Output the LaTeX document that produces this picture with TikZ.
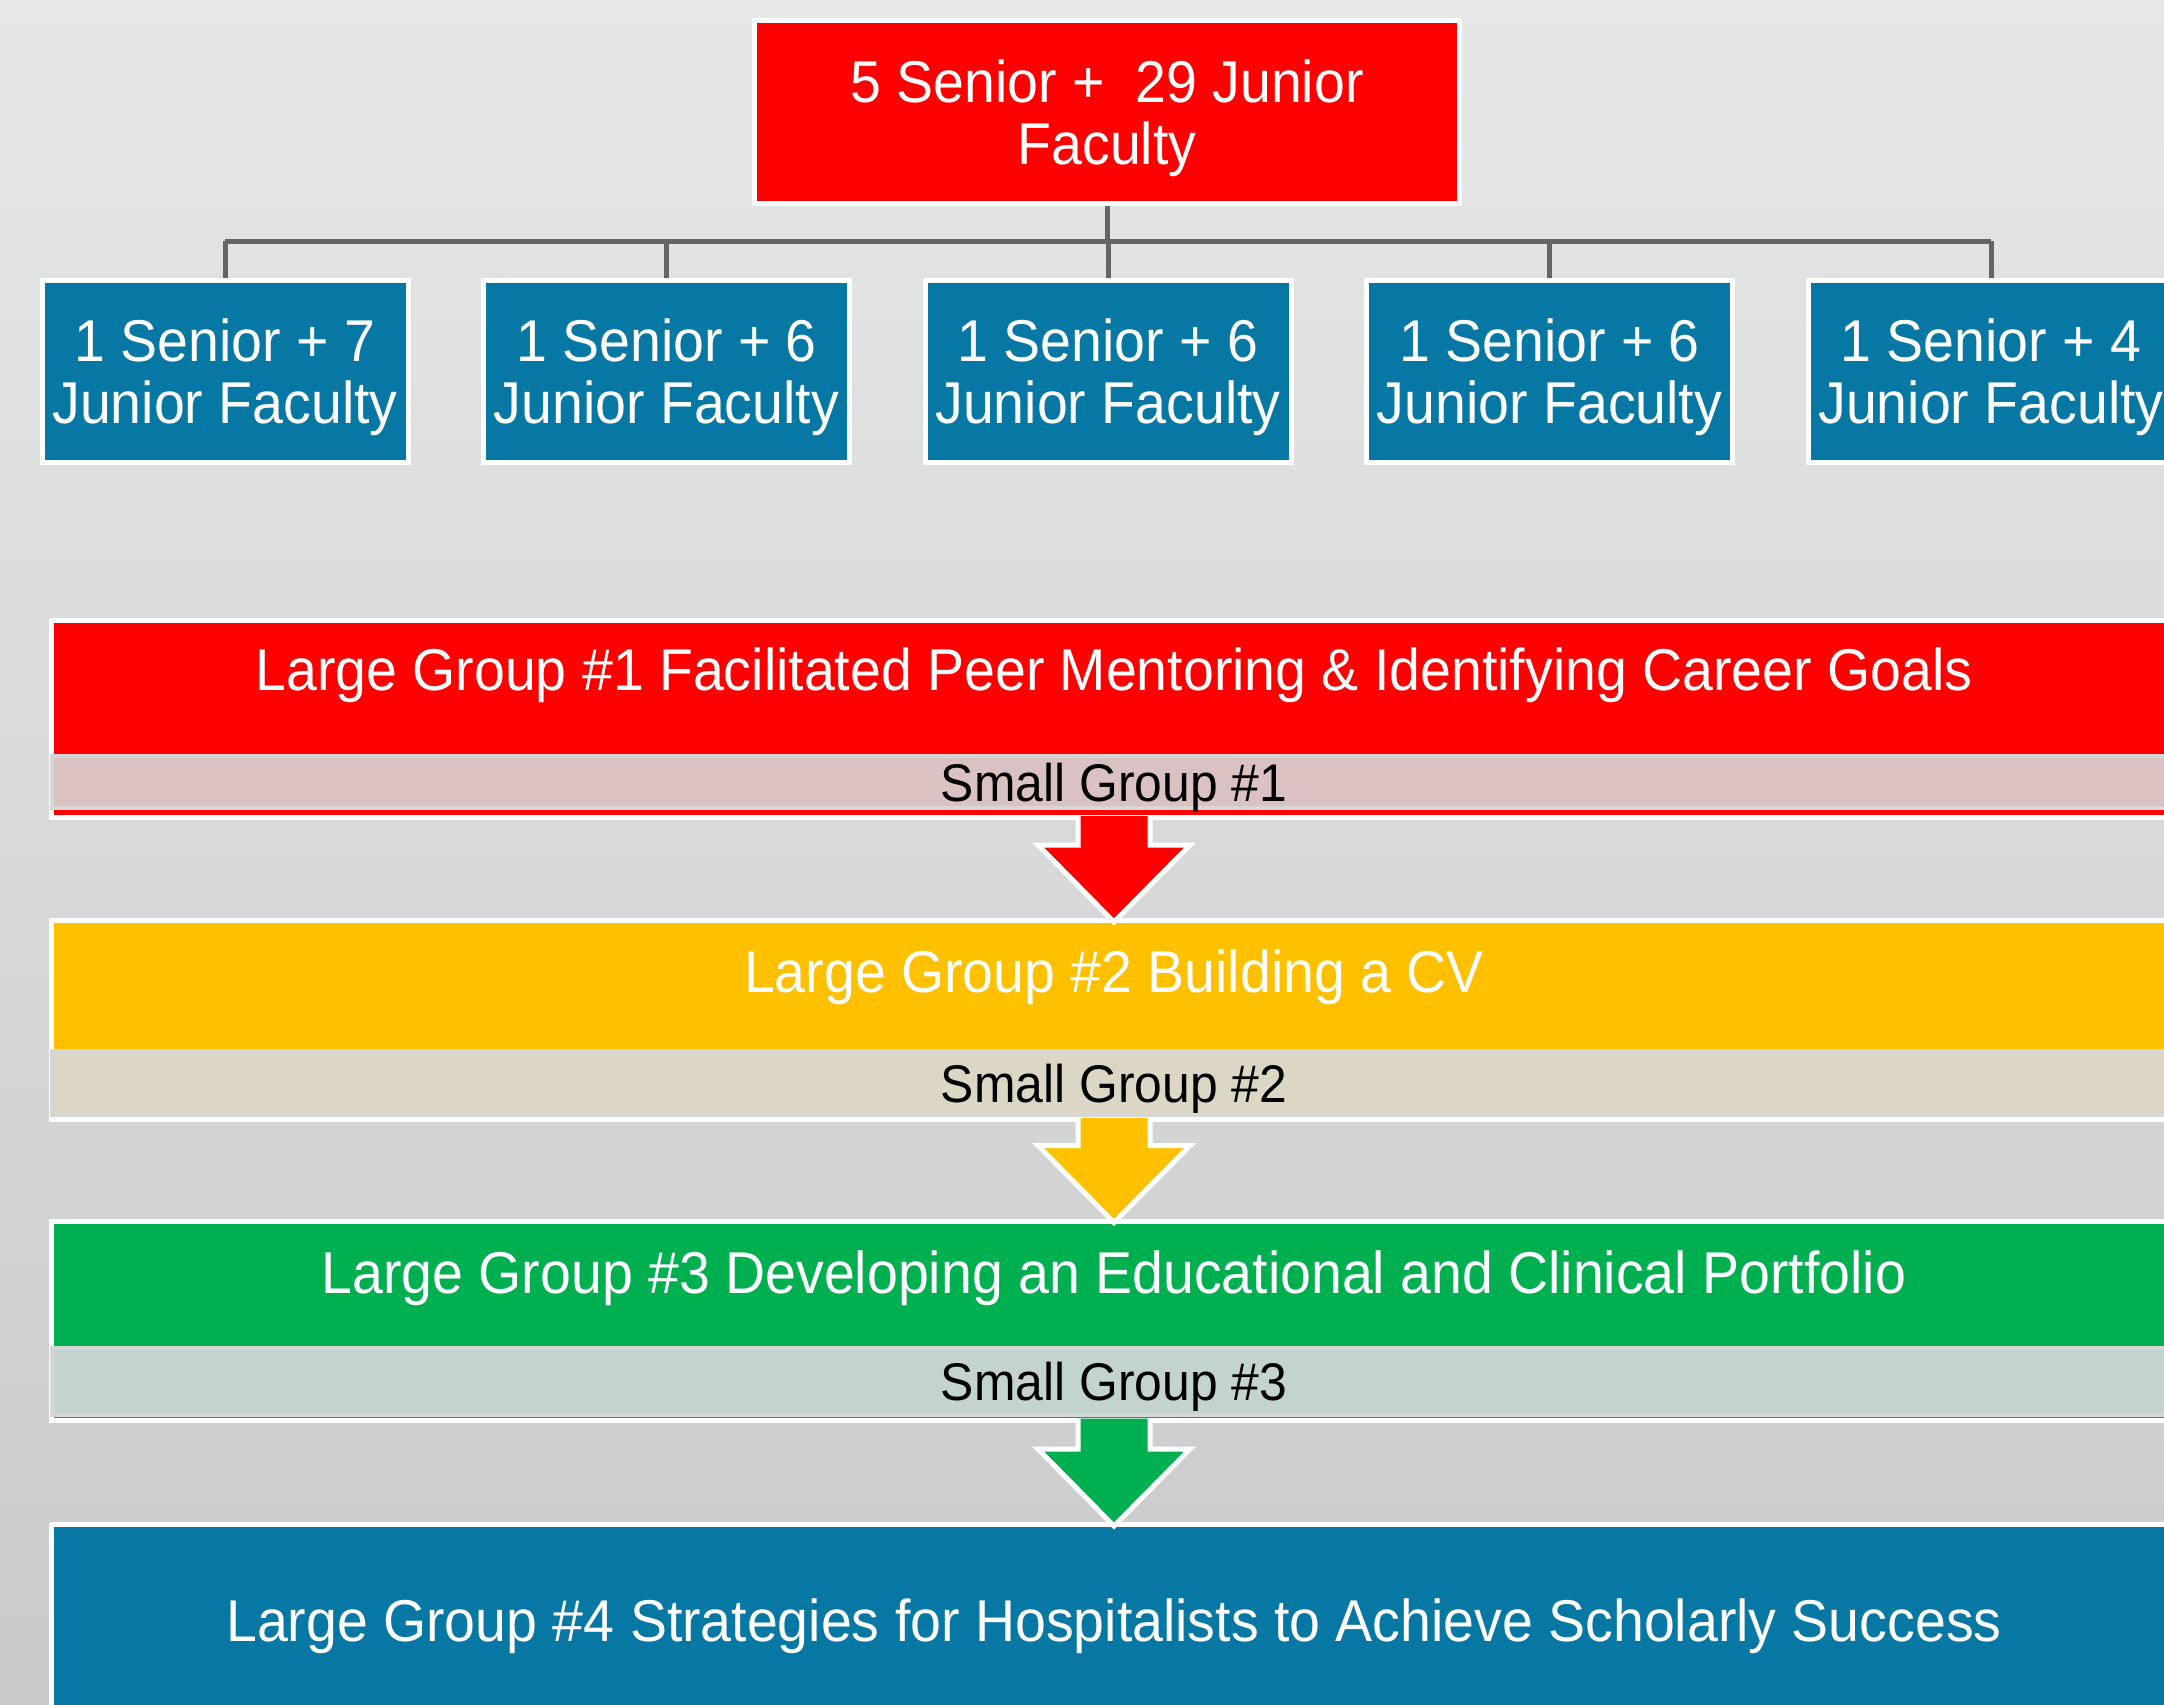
\documentclass[tikz,border=0pt]{standalone}
\usepackage{fontspec}
\setmainfont{Liberation Sans}[FakeStretch=0.94]
\usetikzlibrary{calc}
\definecolor{bgtop}{HTML}{E6E7E7}
\definecolor{bgbot}{HTML}{C9CACC}
\definecolor{deepblue}{HTML}{0777A3}
\definecolor{amber}{HTML}{FFC000}
\definecolor{leaf}{HTML}{00B050}
\definecolor{linegray}{HTML}{646567}
\definecolor{pinkband}{HTML}{DBC2C2}
\definecolor{sandband}{HTML}{DCD6C4}
\definecolor{mintband}{HTML}{C3D4CC}
\definecolor{bandedge}{HTML}{D6D6D6}
\newcommand{\facfont}{\fontsize{59}{62}\selectfont}
\newcommand{\bandfont}{\fontsize{53}{58}\selectfont}

\begin{document}
\begin{tikzpicture}[x=1pt,y=-1pt,
  box/.style={rectangle,draw=white,line width=5pt,inner sep=0pt,
    text=white,align=center,font=\facfont,text depth=0pt},
  team/.style={box,fill=deepblue,minimum width=366pt,minimum height=182pt},
  stage/.style={box,minimum width=2125pt},
  stagetext/.style={text=white,font=\facfont,inner sep=0pt},
  band/.style={rectangle,draw=bandedge,line width=4pt,inner sep=0pt,
    minimum width=2125pt,text=black,font=\bandfont,text depth=0pt},
  tree/.style={draw=linegray,line width=5pt},
  flow/.style={draw=white,line width=5pt,line join=miter}]
\useasboundingbox (0,0) rectangle (2164,1705);
\shade[top color=bgtop,bottom color=bgbot] (0,0) rectangle (2164,1705);
\clip (0,0) rectangle (2164,1705);

% faculty tree
\node[box,fill=red,minimum width=705pt,minimum height=183pt] (all) at (1107,112)
  {5 Senior + \ 29 Junior\\Faculty};
\foreach \i/\n in {1/7,2/6,3/6,4/6,5/4}{
  \node[team] (t\i) at ({225+441.5*(\i-1)},371) {1 Senior + \n\\Junior Faculty};}
\coordinate (bus) at (1107,241);
\draw[tree] (all.south) -- (all.south |- bus);
\draw[tree] (t1.north |- bus) -- (t5.north |- bus);
\foreach \i in {1,...,5}{\draw[tree] (t\i.north |- bus) -- (t\i.north);}

% sessions
\node[stage,fill=red,minimum height=197.5pt] (lg1) at (1114,718.75) {};
\node[band,fill=pinkband,minimum height=52pt] (sg1) at (1114,782) {Small Group \#1};
\node[stagetext] (lg1t) at (1114,675)
  {Large Group \#1 Facilitated Peer Mentoring \& Identifying Career Goals};

\node[stage,fill=amber,minimum height=199pt] (lg2) at (1114,1020) {};
\node[band,fill=sandband,minimum height=64pt] (sg2) at (1114,1083) {Small Group \#2};
\node[stagetext] (lg2t) at (1114,977) {Large Group \#2 Building a CV};

\node[stage,fill=leaf,minimum height=199pt] (lg3) at (1114,1320.5) {};
\node[band,fill=mintband,minimum height=67pt] (sg3) at (1114,1381.5) {Small Group \#3};
\node[stagetext] (lg3t) at (1114,1278)
  {Large Group \#3 Developing an Educational and Clinical Portfolio};

\node[stage,fill=deepblue,minimum height=191pt] (lg4) at (1114,1620)
  {Large Group \#4 Strategies for Hospitalists to Achieve Scholarly Success};

% block arrows between sessions
\foreach \a/\b/\c in {1/2/red,2/3/amber,3/4/leaf}{
  \filldraw[flow,fill=\c] ($(lg\a.south)+(-36,-4)$) -- ($(lg\b.north)+(-36,-73)$)
    -- ($(lg\b.north)+(-76,-73)$) -- ($(lg\b.north)+(0,4)$)
    -- ($(lg\b.north)+(76,-73)$) -- ($(lg\b.north)+(36,-73)$)
    -- ($(lg\a.south)+(36,-4)$);}
\end{tikzpicture}
\end{document}
